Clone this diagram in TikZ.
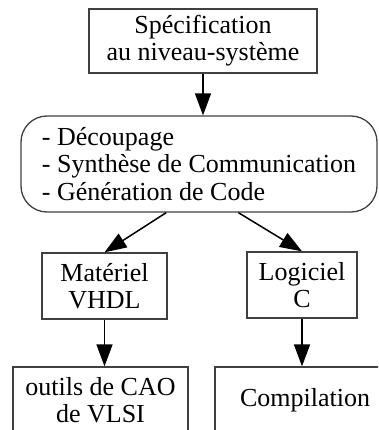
\documentclass[tikz,border=0pt]{standalone}
\usepackage{fontspec}
\setmainfont{Liberation Serif}
\usetikzlibrary{arrows.meta}

\begin{document}
\begin{tikzpicture}[x=1pt,y=-1pt,box/.style={draw=black!75,line width=1.3pt,align=center,inner sep=0pt,font=\fontsize{26}{27}\selectfont},rbox/.style={box,rounded corners=26pt,align=left,minimum width=356pt,minimum height=96pt,font=\fontsize{26}{27.5}\selectfont},arr/.style={-{Triangle[length=22pt,width=16pt]},line width=1.5pt}]
\useasboundingbox (0,0) rectangle (378,430);
\clip (0,0) rectangle (378,430);
\node[box,minimum width=228pt,minimum height=64pt] (spec) at (203,41) {Spécification\\au niveau-système};
\node[rbox] (task) at (199,164) {- Découpage\\- Synthèse de Communication\\- Génération de Code};
\node[box,minimum width=125pt,minimum height=66pt] (hw) at (104.5,286) {Matériel\\VHDL};
\node[box,minimum width=110pt,minimum height=66pt] (sw) at (302,285) {Logiciel\\C};
\node[box,minimum width=175pt,minimum height=66pt] (cao) at (100.5,400) {outils de CAO\\de VLSI};
\node[box,minimum width=180pt,minimum height=66pt] (comp) at (305,400) {Compilation};
\draw[arr] (spec.south)--(spec.south |- task.north);
\draw[arr] (task.236)--(hw.north);\draw[arr] (task.309)--(sw.north);
\draw[arr] (hw.south)--(hw.south |- cao.north);\draw[arr] (sw.south)--(sw.south |- comp.north);
\end{tikzpicture}
\end{document}
